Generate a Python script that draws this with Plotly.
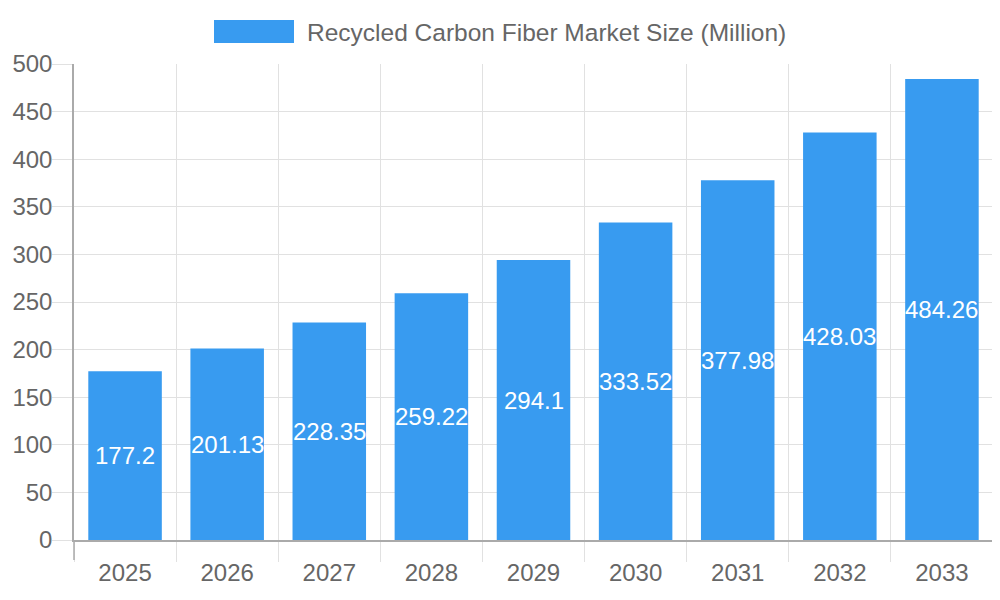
import plotly.graph_objects as go

years = ['2025', '2026', '2027', '2028', '2029', '2030', '2031', '2032', '2033']
market_size = [177.2, 201.13, 228.35, 259.22, 294.1, 333.52, 377.98, 428.03, 484.26]
series_name = 'Recycled Carbon Fiber Market Size (Million)'

bar_color = '#389bf0'
grid_color = '#e1e1e1'
axis_color = '#aaaaaa'
text_color = '#666666'
font_family = 'Liberation Sans, Arial, sans-serif'

fig = go.Figure()

fig.add_trace(go.Bar(
    x=years,
    y=market_size,
    name=series_name,
    width=0.72,
    marker=dict(color=bar_color, line=dict(width=0)),
    hoverinfo='x+y',
    showlegend=False
))

# value labels sit in the middle of each bar (x given as category index)
for i, val in enumerate(market_size):
    fig.add_annotation(
        x=i, y=val / 2,
        text=str(val), showarrow=False,
        font=dict(color='white', size=24, family=font_family)
    )

# legend drawn by hand so the swatch is a wide box like the original
fig.add_shape(
    type='rect', xref='paper', yref='paper',
    x0=(214 - 74) / 919, x1=(294 - 74) / 919,
    y0=(540 - 43) / 476, y1=(540 - 20) / 476,
    fillcolor=bar_color, line=dict(width=0)
)
fig.add_annotation(
    xref='paper', yref='paper',
    x=(305 - 74) / 919, y=(540 - 32) / 476,
    xanchor='left', yanchor='middle',
    text=series_name, showarrow=False,
    font=dict(size=24.5, color=text_color, family=font_family)
)

# darker tick under the y axis line
fig.add_shape(
    type='line', xref='paper', yref='paper',
    x0=0, x1=0, y0=0, y1=-20 / 476,
    line=dict(color=axis_color, width=1.5)
)

# page body adds an 8px offset, margins compensate for it
fig.update_layout(
    width=1000,
    height=600,
    margin=dict(l=66, r=15, t=56, b=68),
    plot_bgcolor='white',
    paper_bgcolor='white',
    font=dict(family=font_family, size=24, color=text_color),
    showlegend=False
)

fig.update_xaxes(
    type='category',
    categoryorder='array',
    categoryarray=years,
    range=[-0.5, len(years) - 0.5],
    automargin=False,
    tickson='boundaries',
    showgrid=True,
    gridcolor=grid_color,
    gridwidth=1,
    ticks='outside',
    ticklen=20,
    tickcolor=grid_color,
    ticklabelstandoff=10,
    showline=True,
    linecolor=axis_color,
    linewidth=1.5,
    tickfont=dict(size=24, color=text_color)
)

fig.update_yaxes(
    range=[0, 500],
    dtick=50,
    automargin=False,
    showgrid=True,
    gridcolor=grid_color,
    gridwidth=1,
    zeroline=False,
    ticks='outside',
    ticklen=20,
    tickcolor=grid_color,
    ticklabelstandoff=-5,
    showline=True,
    linecolor=axis_color,
    linewidth=1.5,
    tickfont=dict(size=24, color=text_color)
)

fig.write_html('out.html')
